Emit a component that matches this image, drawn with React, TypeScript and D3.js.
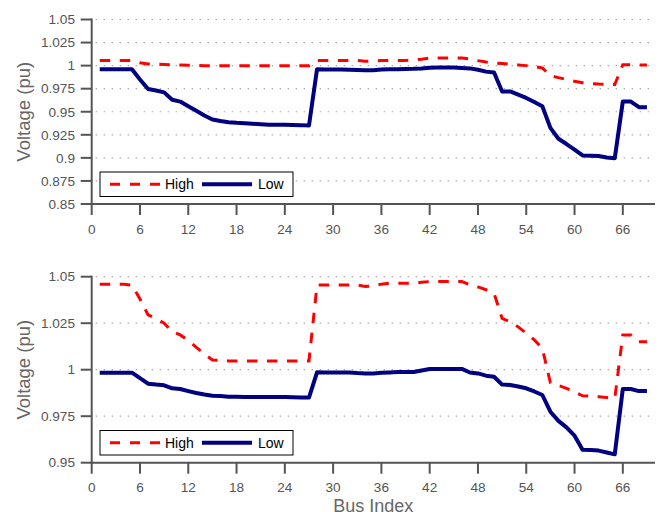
import React from "react";
import * as d3 from "d3";

const buses: number[] = Array.from({ length: 69 }, (_, i) => i + 1);

const topHigh: number[] = [
  1.0055, 1.0055, 1.0055, 1.0055, 1.0055, 1.003, 1.0018, 1.0015, 1.0012, 1.001,
  1.0007, 1.0004, 1.0002, 1.0, 1.0, 1.0, 1.0, 1.0, 1.0, 1.0,
  1.0, 1.0, 1.0, 1.0, 1.0, 1.0, 1.0, 1.0055, 1.0055, 1.0055,
  1.0055, 1.0055, 1.0055, 1.0048, 1.005, 1.0056, 1.0056, 1.0056, 1.0056, 1.006,
  1.007, 1.0083, 1.0083, 1.0083, 1.0083, 1.0083, 1.0072, 1.0054, 1.004, 1.003,
  1.0022, 1.0015, 1.0008, 1.0, 0.999, 0.9975, 0.989, 0.987, 0.985, 0.983,
  0.9815, 0.9805, 0.98, 0.9797, 0.9795, 1.001, 1.001, 1.0007, 1.0007,
];

const topLow: number[] = [
  0.996, 0.996, 0.996, 0.996, 0.996, 0.985, 0.9746, 0.973, 0.971, 0.963,
  0.961, 0.956, 0.951, 0.946, 0.9415, 0.94, 0.9387, 0.938, 0.9375, 0.937,
  0.9365, 0.936, 0.936, 0.936, 0.9357, 0.9355, 0.935, 0.996, 0.9958, 0.9958,
  0.9957, 0.9956, 0.9953, 0.995, 0.995, 0.9958, 0.996, 0.9962, 0.9963, 0.9965,
  0.997, 0.9978, 0.998, 0.998, 0.998, 0.9975, 0.997, 0.9955, 0.9935, 0.9925,
  0.972, 0.972, 0.9685, 0.965, 0.9605, 0.956, 0.9325, 0.9207, 0.915, 0.909,
  0.9027, 0.9024, 0.902, 0.9005, 0.8995, 0.961, 0.961, 0.955, 0.955,
];

const bottomHigh: number[] = [
  1.0459, 1.0459, 1.0459, 1.0459, 1.0455, 1.038, 1.0295, 1.0275, 1.025, 1.0205,
  1.0187, 1.0157, 1.012, 1.0085, 1.0052, 1.005, 1.0047, 1.0047, 1.0047, 1.0047,
  1.0047, 1.0047, 1.0047, 1.0047, 1.0047, 1.0047, 1.0047, 1.0455, 1.0455, 1.0455,
  1.0455, 1.0455, 1.0455, 1.0448, 1.045, 1.046, 1.0465, 1.0465, 1.0465, 1.0465,
  1.047, 1.0474, 1.0474, 1.0474, 1.0474, 1.0474, 1.0457, 1.0445, 1.043, 1.041,
  1.0276, 1.0258, 1.023, 1.0196, 1.016, 1.0115, 0.993, 0.9915, 0.99, 0.988,
  0.986, 0.9858, 0.9855, 0.985, 0.9845, 1.0187, 1.0187, 1.015, 1.015,
];

const bottomLow: number[] = [
  0.9984, 0.9984, 0.9984, 0.9984, 0.9984, 0.9955, 0.9925, 0.992, 0.9916, 0.99,
  0.9896, 0.9885, 0.9875, 0.9867, 0.986, 0.9858, 0.9855, 0.9854, 0.9853, 0.9853,
  0.9853, 0.9853, 0.9853, 0.9853, 0.9852, 0.9851, 0.985, 0.9986, 0.9985, 0.9985,
  0.9985, 0.9985, 0.9982, 0.998, 0.998, 0.9983, 0.9985, 0.9987, 0.9988, 0.9988,
  0.9996, 1.0004, 1.0004, 1.0004, 1.0004, 1.0004, 0.9985, 0.998, 0.9968, 0.9962,
  0.992, 0.9918, 0.991, 0.99, 0.9883, 0.9864, 0.9774, 0.9725, 0.969, 0.9645,
  0.957, 0.9568, 0.9565, 0.9555, 0.9545, 0.9896, 0.9896, 0.9885, 0.9885,
];

const xTicks: number[] = [0, 6, 12, 18, 24, 30, 36, 42, 48, 54, 60, 66];
const topYTicks: number[] = [0.85, 0.875, 0.9, 0.925, 0.95, 0.975, 1, 1.025, 1.05];
const topYLabels: string[] = ["0.85", "0.875", "0.9", "0.925", "0.95", "0.975", "1", "1.025", "1.05"];
const bottomYTicks: number[] = [0.95, 0.975, 1, 1.025, 1.05];
const bottomYLabels: string[] = ["0.95", "0.975", "1", "1.025", "1.05"];
const seriesNames: string[] = ["High", "Low"];

const FONT = "'Liberation Sans', Arial, Helvetica, sans-serif";
const AXIS = "#555555";
const RED = "#ff0000";
const BLUE = "#000080";

type PanelProps = {
  top: number;
  bottom: number;
  yDomain: [number, number];
  yTicks: number[];
  yLabels: string[];
  high: number[];
  low: number[];
  legendY: number;
  showXLabel: boolean;
};

function Panel(p: PanelProps) {
  const x = d3.scaleLinear().domain([0, 70]).range([91.7, 655]);
  const y = d3.scaleLinear().domain(p.yDomain).range([p.bottom, p.top]);
  const line = d3
    .line<number>()
    .x((_, i) => x(buses[i]))
    .y((d) => y(d));
  const x0 = x(0);
  const x1 = x(70);
  const legX = 100;
  const legW = 193;
  const legH = 24.5;
  const ly = p.legendY + legH / 2;
  return (
    <g>
      {p.yTicks.map((t, i) =>
        i === 0 ? null : (
          <line
            key={"g" + i}
            x1={x0 + 4}
            x2={x1}
            y1={y(t)}
            y2={y(t)}
            stroke="#999"
            strokeWidth={1.2}
            strokeDasharray="1.2,6.8"
          />
        )
      )}
      <path d={line(p.high) || ""} fill="none" stroke={RED} strokeWidth={3} strokeDasharray="10.5,9.5" />
      <path d={line(p.low) || ""} fill="none" stroke={BLUE} strokeWidth={4} strokeLinejoin="round" />
      {/* axes */}
      <line x1={x0} x2={x0} y1={p.top - 1} y2={p.bottom + 1} stroke={AXIS} strokeWidth={2} />
      <line x1={x0 - 1} x2={x1} y1={p.bottom} y2={p.bottom} stroke={AXIS} strokeWidth={2} />
      {p.yTicks.map((t, i) => (
        <g key={"yt" + i}>
          <line x1={x0 - 11} x2={x0} y1={y(t)} y2={y(t)} stroke={AXIS} strokeWidth={2} />
          <text
            x={75}
            y={y(t)}
            dy="0.35em"
            textAnchor="end"
            fontFamily={FONT}
            fontSize={13.6}
            fill={AXIS}
          >
            {p.yLabels[i]}
          </text>
        </g>
      ))}
      {xTicks.map((t, i) => (
        <g key={"xt" + i}>
          <line x1={x(t)} x2={x(t)} y1={p.bottom} y2={p.bottom + 11} stroke={AXIS} strokeWidth={2} />
          <text
            x={x(t)}
            y={p.bottom + 25}
            dy="0.35em"
            textAnchor="middle"
            fontFamily={FONT}
            fontSize={13.6}
            fill={AXIS}
          >
            {t}
          </text>
        </g>
      ))}
      <text
        transform={`translate(24,${(p.top + p.bottom) / 2}) rotate(-90)`}
        textAnchor="middle"
        dy="0.35em"
        fontFamily={FONT}
        fontSize={18.5}
        fill="#666"
      >
        Voltage (pu)
      </text>
      {p.showXLabel && (
        <text
          x={(x0 + x1) / 2}
          y={p.bottom + 43}
          dy="0.35em"
          textAnchor="middle"
          fontFamily={FONT}
          fontSize={18}
          fill="#666"
        >
          Bus Index
        </text>
      )}
      {/* legend */}
      <rect x={legX} y={p.legendY} width={legW} height={legH} fill="#fff" stroke="#000" strokeWidth={1} />
      <line x1={110} x2={160} y1={ly} y2={ly} stroke={RED} strokeWidth={3} strokeDasharray="10,10" />
      <text x={165} y={ly} dy="0.36em" fontFamily={FONT} fontSize={14} fill="#000">
        {seriesNames[0]}
      </text>
      <line x1={202} x2={252} y1={ly} y2={ly} stroke={BLUE} strokeWidth={4} />
      <text x={258} y={ly} dy="0.36em" fontFamily={FONT} fontSize={14} fill="#000">
        {seriesNames[1]}
      </text>
    </g>
  );
}

export default function App() {
  return (
    <div style={{ position: "fixed", left: 0, top: 0, width: 666, height: 512, background: "#fff" }}>
      <svg width={666} height={512} viewBox="0 0 666 512">
        <rect width={666} height={512} fill="#fff" />
        <Panel
          top={19.5}
          bottom={204}
          yDomain={[0.85, 1.05]}
          yTicks={topYTicks}
          yLabels={topYLabels}
          high={topHigh}
          low={topLow}
          legendY={172}
          showXLabel={false}
        />
        <Panel
          top={276.7}
          bottom={462.7}
          yDomain={[0.95, 1.05]}
          yTicks={bottomYTicks}
          yLabels={bottomYLabels}
          high={bottomHigh}
          low={bottomLow}
          legendY={430.5}
          showXLabel={true}
        />
      </svg>
    </div>
  );
}
